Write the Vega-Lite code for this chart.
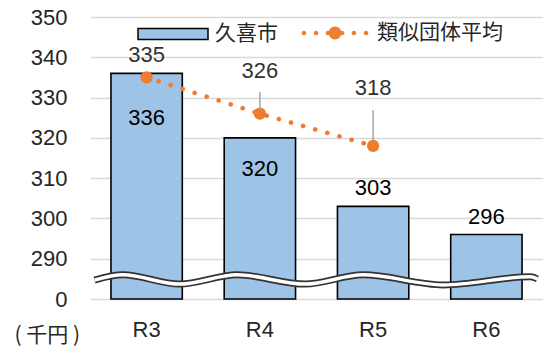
{
  "$schema": "https://vega.github.io/schema/vega-lite/v6.json",
  "width": 453,
  "height": 282,
  "autosize": "none",
  "padding": {"left": 90, "top": 17, "right": 0, "bottom": 50},
  "background": "white",
  "config": {
    "view": {"stroke": null},
    "font": "Liberation Sans",
    "text": {"font": "Liberation Sans", "fontSize": 22}
  },
  "datasets": {
    "main": [
      {"cat": "R3", "series": "久喜市", "value": 336},
      {"cat": "R4", "series": "久喜市", "value": 320},
      {"cat": "R5", "series": "久喜市", "value": 303},
      {"cat": "R6", "series": "久喜市", "value": 296},
      {"cat": "R3", "series": "類似団体平均", "value": 335},
      {"cat": "R4", "series": "類似団体平均", "value": 326},
      {"cat": "R5", "series": "類似団体平均", "value": 318}
    ],
    "wave": [
      {"t": 0.04, "w": 284.7},
      {"t": 0.29, "w": 286.0},
      {"t": 0.79, "w": 283.7},
      {"t": 1.30, "w": 286.0},
      {"t": 1.90, "w": 283.7},
      {"t": 2.41, "w": 286.0},
      {"t": 3.12, "w": 283.5},
      {"t": 3.89, "w": 285.5},
      {"t": 3.95, "w": 285.0}
    ]
  },
  "resolve": {"scale": {"x": "independent"}, "axis": {"y": "independent", "x": "independent"}},
  "layer": [
    {
      "data": {"name": "main"},
      "encoding": {
        "x": {
          "field": "cat",
          "type": "nominal",
          "sort": ["R3", "R4", "R5", "R6"],
          "scale": {"domain": ["R3", "R4", "R5", "R6"], "paddingInner": 0.37, "paddingOuter": 0.185},
          "axis": {"title": null, "labelAngle": 0, "domain": false, "ticks": false, "labelFontSize": 22, "labelFont": "Liberation Sans", "labelColor": "#262626", "labelPadding": 20, "labelBaseline": "top"}
        },
        "y": {
          "field": "value",
          "type": "quantitative",
          "scale": {"domain": [280, 350], "nice": false, "zero": false},
          "axis": {
            "values": [280, 290, 300, 310, 320, 330, 340, 350],
            "labelExpr": "datum.value == 280 ? '0' : datum.label",
            "title": "(  千円  )",
            "titleAngle": 0,
            "titleAlign": "left",
            "titleBaseline": "middle",
            "titleX": -76,
            "titleY": 318,
            "titleFont": "Noto Sans CJK JP",
            "titleFontSize": 21,
            "titleFontWeight": "normal",
            "titleColor": "#262626",
            "domain": false,
            "ticks": false,
            "labelFontSize": 22,
            "labelFont": "Liberation Sans",
            "labelColor": "#262626",
            "labelPadding": 23,
            "gridColor": "#d9d9d9",
            "gridWidth": 1.5
          }
        }
      },
      "layer": [
        {
          "transform": [{"filter": "datum.series == '久喜市'"}],
          "mark": {"type": "bar", "stroke": "black", "strokeWidth": 1.6},
          "encoding": {
            "y2": {"datum": 280},
            "fill": {
              "field": "series",
              "type": "nominal",
              "scale": {"range": ["#9DC3E6"]},
              "legend": {
                "orient": "none",
                "legendX": 47,
                "legendY": -19,
                "title": null,
                "padding": 0,
                "symbolType": "M-1,-0.157L1,-0.157L1,0.157L-1,0.157Z",
                "symbolSize": 4900,
                "symbolStrokeColor": "black",
                "symbolStrokeWidth": 1.5,
                "labelFont": "Noto Sans CJK JP",
                "labelFontSize": 21,
                "labelColor": "#262626",
                "labelOffset": 6
              }
            }
          }
        },
        {
          "transform": [{"filter": "datum.series == '類似団体平均'"}],
          "mark": {"type": "line", "color": "#ED7D31", "strokeWidth": 4.6, "strokeDash": [0.1, 12.5], "strokeCap": "round"}
        },
        {
          "transform": [{"filter": "datum.series == '類似団体平均'"}],
          "mark": {"type": "point", "shape": "circle", "filled": true, "color": "#ED7D31", "size": 150, "opacity": 1}
        },
        {
          "transform": [{"filter": "datum.series == '類似団体平均'"}],
          "mark": {"type": "point", "filled": true, "color": "#ED7D31", "opacity": 0},
          "encoding": {
            "shape": {
              "field": "series",
              "type": "nominal",
              "scale": {"range": ["M-1.042,0a0.072,0.072 0 1,0 0.144,0a0.072,0.072 0 1,0 -0.144,0ZM-0.662,0a0.072,0.072 0 1,0 0.144,0a0.072,0.072 0 1,0 -0.144,0ZM-0.292,0a0.072,0.072 0 1,0 0.144,0a0.072,0.072 0 1,0 -0.144,0ZM0.148,0a0.072,0.072 0 1,0 0.144,0a0.072,0.072 0 1,0 -0.144,0ZM0.518,0a0.072,0.072 0 1,0 0.144,0a0.072,0.072 0 1,0 -0.144,0ZM0.898,0a0.072,0.072 0 1,0 0.144,0a0.072,0.072 0 1,0 -0.144,0ZM-0.2,0a0.2,0.2 0 1,0 0.4,0a0.2,0.2 0 1,0 -0.4,0Z"]},
              "legend": {
                "orient": "none",
                "legendX": 213,
                "legendY": -16,
                "title": null,
                "padding": 0,
                "symbolSize": 4096,
                "symbolOpacity": 1,
                "symbolFillColor": "#ED7D31",
                "symbolStrokeWidth": 0,
                "labelFont": "Noto Sans CJK JP",
                "labelFontSize": 21,
                "labelColor": "#262626",
                "labelOffset": 10
              }
            }
          }
        },
        {
          "transform": [{"filter": "datum.series == '類似団体平均' && datum.cat == 'R4'"}],
          "mark": {"type": "rule", "color": "#a6a6a6", "strokeWidth": 1.5, "yOffset": -21.6, "y2Offset": -3.6},
          "encoding": {"y2": {"field": "value"}}
        },
        {
          "transform": [{"filter": "datum.series == '類似団体平均' && datum.cat == 'R5'"}],
          "mark": {"type": "rule", "color": "#a6a6a6", "strokeWidth": 1.5, "yOffset": -36, "y2Offset": -6},
          "encoding": {"y2": {"field": "value"}}
        },
        {
          "transform": [{"filter": "datum.series == '類似団体平均' && datum.cat == 'R3'"}],
          "mark": {"type": "text", "dy": -22, "baseline": "middle", "color": "#333333"},
          "encoding": {"text": {"field": "value", "type": "quantitative"}}
        },
        {
          "transform": [{"filter": "datum.series == '類似団体平均' && datum.cat == 'R4'"}],
          "mark": {"type": "text", "dy": -43, "baseline": "middle", "color": "#333333"},
          "encoding": {"text": {"field": "value", "type": "quantitative"}}
        },
        {
          "transform": [{"filter": "datum.series == '類似団体平均' && datum.cat == 'R5'"}],
          "mark": {"type": "text", "dy": -57.5, "baseline": "middle", "color": "#333333"},
          "encoding": {"text": {"field": "value", "type": "quantitative"}}
        },
        {
          "transform": [{"filter": "datum.series == '久喜市' && datum.cat == 'R3'"}],
          "mark": {"type": "text", "dy": 45, "baseline": "middle", "color": "black"},
          "encoding": {"text": {"field": "value", "type": "quantitative"}}
        },
        {
          "transform": [{"filter": "datum.series == '久喜市' && datum.cat == 'R4'"}],
          "mark": {"type": "text", "dy": 31, "baseline": "middle", "color": "black"},
          "encoding": {"text": {"field": "value", "type": "quantitative"}}
        },
        {
          "transform": [{"filter": "datum.series == '久喜市' && (datum.cat == 'R5' || datum.cat == 'R6')"}],
          "mark": {"type": "text", "dy": -18, "baseline": "middle", "color": "black"},
          "encoding": {"text": {"field": "value", "type": "quantitative"}}
        }
      ]
    },
    {
      "data": {"name": "wave"},
      "encoding": {
        "x": {"field": "t", "type": "quantitative", "scale": {"domain": [0, 4], "nice": false, "zero": false}, "axis": null},
        "y": {"field": "w", "type": "quantitative", "axis": null}
      },
      "layer": [
        {"mark": {"type": "line", "color": "#333333", "strokeWidth": 7, "interpolate": "monotone", "strokeCap": "butt"}},
        {"mark": {"type": "line", "color": "white", "strokeWidth": 3.5, "interpolate": "monotone", "strokeCap": "butt"}}
      ]
    }
  ]
}
